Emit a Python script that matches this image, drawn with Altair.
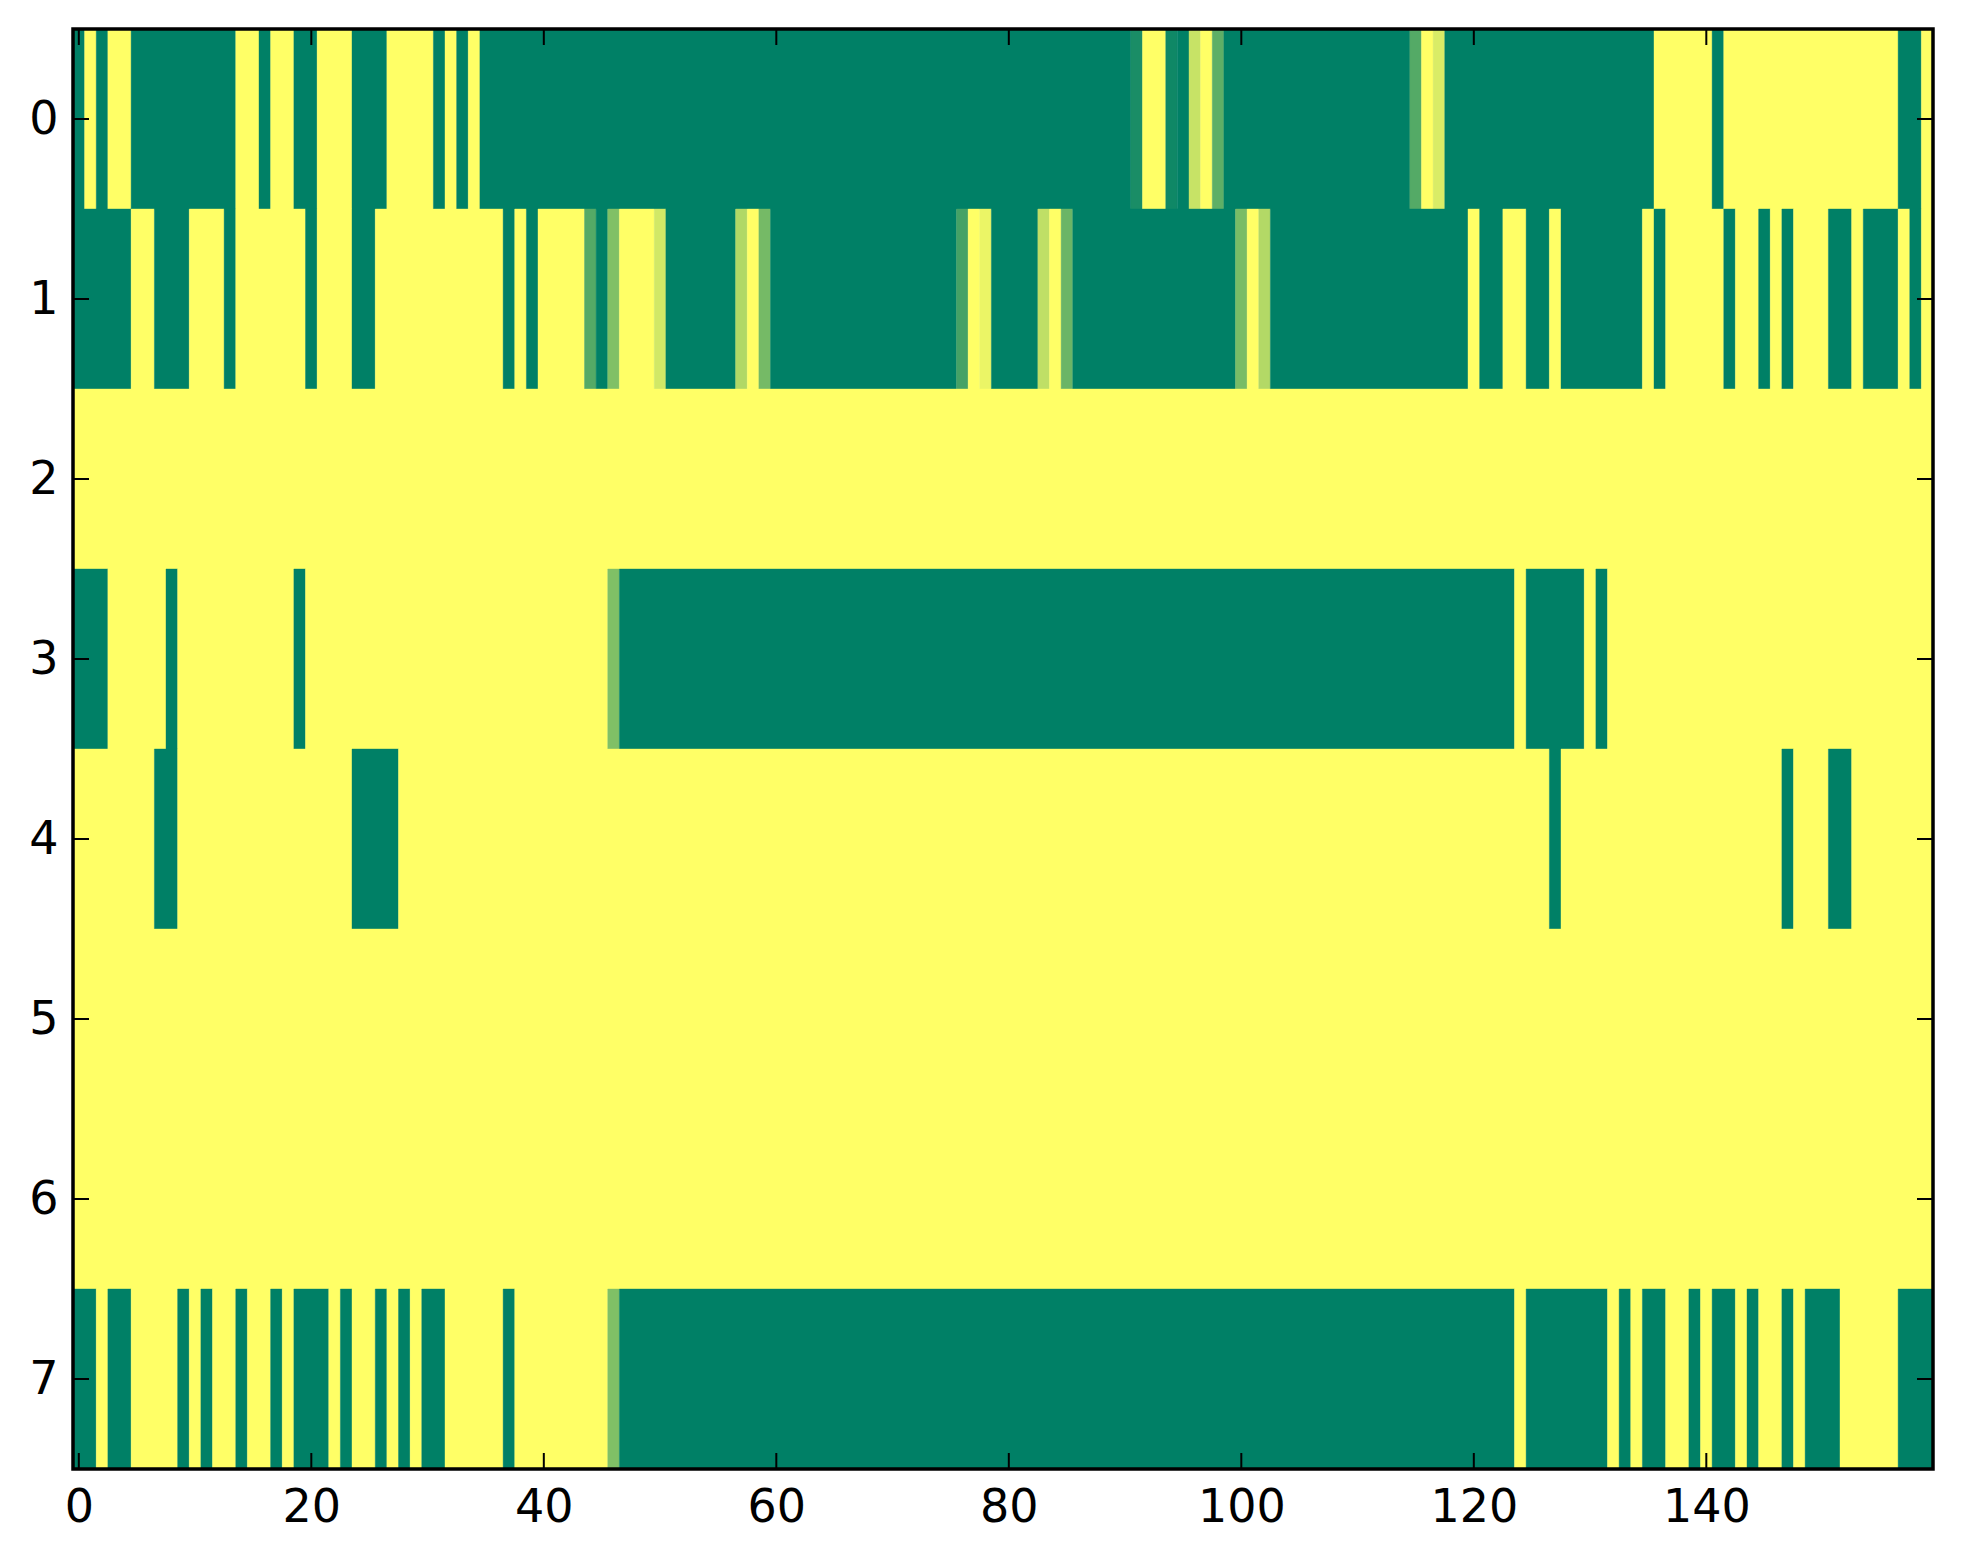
import altair as alt
import pandas as pd

# Each row: 160 cells, '0' = low (green), '1' = high (yellow); groups of 10 for readability
ROWS = [
    "0101100000 0000110110 0111000111 1010100000 0000000000 0000000000 0000000000 0000000000 0000000000 0011001100 0000000000 0000001100 0000000000 0000001111 1011111111 1111111001",
    "0000011000 1110111111 0111001111 1111111010 1111000111 1000000110 0000000000 0000000110 0001100000 0000000000 0110000000 0000000000 1001100100 0000010111 1101101011 1001000101",
    "1111111111 1111111111 1111111111 1111111111 1111111111 1111111111 1111111111 1111111111 1111111111 1111111111 1111111111 1111111111 1111111111 1111111111 1111111111 1111111111",
    "0001111101 1111111110 1111111111 1111111111 1111110000 0000000000 0000000000 0000000000 0000000000 0000000000 0000000000 0000000000 0000100000 1011111111 1111111111 1111111111",
    "1111111001 1111111111 1111000011 1111111111 1111111111 1111111111 1111111111 1111111111 1111111111 1111111111 1111111111 1111111111 1111111011 1111111111 1111111011 1001111111",
    "1111111111 1111111111 1111111111 1111111111 1111111111 1111111111 1111111111 1111111111 1111111111 1111111111 1111111111 1111111111 1111111111 1111111111 1111111111 1111111111",
    "1111111111 1111111111 1111111111 1111111111 1111111111 1111111111 1111111111 1111111111 1111111111 1111111111 1111111111 1111111111 1111111111 1111111111 1111111111 1111111111",
    "0010011110 1011011010 0010110101 0011111011 1111111000 0000000000 0000000000 0000000000 0000000000 0000000000 0000000000 0000000000 0000100000 0010100110 1001011010 0011111000",
]

# cells with intermediate values
OV_ROW = [0, 0, 0, 0, 0, 0, 1, 1, 1, 1, 1, 1, 1, 1, 1, 1, 1, 3, 7]
OV_COL = [91, 94, 96, 98, 115, 117, 44, 46, 50, 57, 59, 76, 78, 83, 85, 100, 102, 46, 46]
OV_VAL = [0.10, 0.06, 0.78, 0.37, 0.33, 0.85, 0.33, 0.50, 0.82, 0.69, 0.46, 0.27, 0.92, 0.75, 0.42, 0.47, 0.70, 0.50, 0.50]

X_TICKS = [0, 20, 40, 60, 80, 100, 120, 140]
Y_TICKS = [0, 1, 2, 3, 4, 5, 6, 7]

grid = []
for s in ROWS:
    grid.append([float(ch) for ch in s.replace(" ", "")])
for r, c, v in zip(OV_ROW, OV_COL, OV_VAL):
    grid[r][c] = v

# merge horizontally adjacent equal cells into runs (avoids seams between cells)
runs = []
for r, vals in enumerate(grid):
    start = 0
    for c in range(1, len(vals) + 1):
        if c == len(vals) or vals[c] != vals[start]:
            runs.append({"row": r, "c0": start, "c1": c - 1, "v": vals[start]})
            start = c
df = pd.DataFrame(runs)
df["x1"] = df["c0"] - 0.5
df["x2"] = df["c1"] + 0.5
df["y1"] = df["row"] - 0.5
df["y2"] = df["row"] + 0.5

W, H = 1860, 1440
TL = 16
FONT = "DejaVu Sans"

xs = alt.Scale(domain=[-0.5, 159.5], nice=False, zero=False)
ys = alt.Scale(domain=[-0.5, 7.5], nice=False, zero=False, reverse=True)
cs = alt.Scale(domain=[0, 1], range=["#008066", "#ffff66"], interpolate="rgb")

heat = alt.Chart(df).mark_rect(strokeWidth=0.4).encode(
    x=alt.X("x1:Q", scale=xs, axis=alt.Axis(orient="bottom", values=X_TICKS, format="d",
                                             labelFontSize=46, labelFont=FONT, labelColor="black",
                                             labelPadding=16, labelFlush=False, labelOverlap=False,
                                             title=None, grid=False, ticks=False, domain=False)),
    x2="x2:Q",
    y=alt.Y("y1:Q", scale=ys, axis=alt.Axis(orient="left", values=Y_TICKS, format="d",
                                             labelFontSize=46, labelFont=FONT, labelColor="black",
                                             labelPadding=15, labelOverlap=False, labelFlush=False,
                                             title=None, grid=False, ticks=False, domain=False)),
    y2="y2:Q",
    color=alt.Color("v:Q", scale=cs, legend=None),
    stroke=alt.Stroke("v:Q", scale=cs, legend=None),
)

xt = pd.DataFrame({"t": X_TICKS})
yt = pd.DataFrame({"t": Y_TICKS})

top_ticks = alt.Chart(xt).mark_rule(color="black", strokeWidth=2).encode(
    x=alt.X("t:Q", scale=xs), y=alt.value(0), y2=alt.value(TL),
)
bot_ticks = alt.Chart(xt).mark_rule(color="black", strokeWidth=2).encode(
    x=alt.X("t:Q", scale=xs), y=alt.value(H), y2=alt.value(H - TL),
)
left_ticks = alt.Chart(yt).mark_rule(color="black", strokeWidth=2).encode(
    y=alt.Y("t:Q", scale=ys), x=alt.value(0), x2=alt.value(TL),
)
right_ticks = alt.Chart(yt).mark_rule(color="black", strokeWidth=2).encode(
    y=alt.Y("t:Q", scale=ys), x=alt.value(W), x2=alt.value(W - TL),
)
frame = alt.Chart(pd.DataFrame({"f": [0]})).mark_rect(
    filled=False, stroke="black", strokeWidth=3.5
).encode(x=alt.value(0), x2=alt.value(W), y=alt.value(0), y2=alt.value(H))

chart = alt.layer(heat, top_ticks, bot_ticks, left_ticks, right_ticks, frame).properties(
    width=W, height=H,
    autosize=alt.AutoSizeParams(type="none"),
    padding={"left": 65, "top": 21, "right": 14, "bottom": 70},
    background="white",
).configure_view(strokeWidth=0)

chart.save("out.html", embed_options={"renderer": "svg", "actions": False})
